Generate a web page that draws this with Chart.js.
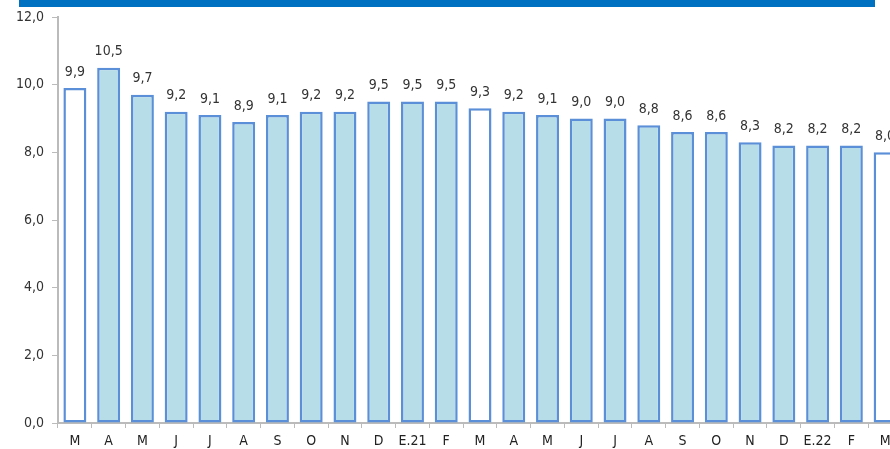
<!DOCTYPE html>
<html>
<head>
<meta charset="utf-8">
<script src="https://cdn.jsdelivr.net/npm/chart.js@4.4.1/dist/chart.umd.min.js"></script>
<style>
  html, body { margin: 0; padding: 0; background: #fff; overflow: hidden; }
  #wrap { position: relative; width: 904px; height: 449px; }
  #band { position: absolute; left: 19px; top: 0; width: 856px; height: 7px; background: #0070c0; }
</style>
</head>
<body>
<div id="wrap">
  <canvas id="barChart"></canvas>
  <div id="band"></div>
</div>
<script>
// months, Mar 2020 .. Mar 2022
var labels = ["M", "A", "M", "J", "J", "A", "S", "O", "N", "D", "E.21", "F",
  "M", "A", "M", "J", "J", "A", "S", "O", "N", "D", "E.22", "F", "M"];
var values = [9.9, 10.5, 9.7, 9.2, 9.1, 8.9, 9.1, 9.2, 9.2, 9.5, 9.5, 9.5,
  9.3, 9.2, 9.1, 9.0, 9.0, 8.8, 8.6, 8.6, 8.3, 8.2, 8.2, 8.2, 8.0];
var yTicks = [0, 2, 4, 6, 8, 10, 12];

var fmt = function (v) { return v.toFixed(1).replace(".", ","); };
var narrow = "'DejaVu Sans Condensed', 'Liberation Sans Narrow', 'Arial Narrow', sans-serif";

// March bars are drawn white
var fills = labels.map(function (l, i) {
  return (i % 12 === 0) ? "#ffffff" : "#b7dde8";
});

// value labels above each bar
var valueLabels = {
  id: "valueLabels",
  afterDatasetsDraw: function (chart) {
    var ctx = chart.ctx;
    var meta = chart.getDatasetMeta(0);
    ctx.save();
    ctx.font = "14px " + narrow;
    ctx.fillStyle = "#333";
    ctx.textAlign = "center";
    ctx.textBaseline = "bottom";
    meta.data.forEach(function (bar, i) {
      ctx.fillText(fmt(values[i]), bar.x, bar.y - 9);
    });
    ctx.restore();
  }
};

var ctxBar = document.getElementById("barChart").getContext("2d");
var barChart = new Chart(ctxBar, {
  type: "bar",
  data: {
    labels: labels,
    datasets: [
      {
        data: values,
        backgroundColor: fills,
        borderColor: "#5b8fd8",
        borderWidth: 2.5,
        borderSkipped: false,
        categoryPercentage: 1,
        barPercentage: 0.68,
      },
    ],
  },
  options: {
    responsive: true,
    maintainAspectRatio: false,
    animation: false,
    layout: { padding: { top: 17, right: 2, left: 0, bottom: 0 } },
    plugins: { legend: { display: false }, tooltip: { enabled: false } },
    scales: {
      x: {
        afterFit: function (s) { s.height = 26; },
        grid: {
          offset: true,
          drawOnChartArea: false,
          tickLength: 5,
          color: "#bbbbbb",
        },
        border: { color: "#bbbbbb", width: 2 },
        ticks: {
          maxRotation: 0,
          autoSkip: false,
          padding: 5,
          color: "#222",
          font: { family: narrow, size: 14 },
        },
      },
      y: {
        min: 0,
        max: 12,
        afterFit: function (s) { s.width = 58; },
        afterBuildTicks: function (s) {
          s.ticks = yTicks.map(function (v) { return { value: v }; });
        },
        grid: {
          drawOnChartArea: false,
          tickLength: 6,
          color: "#bbbbbb",
        },
        border: { color: "#bbbbbb", width: 2 },
        ticks: {
          padding: 8,
          color: "#333",
          font: { family: narrow, size: 14 },
          callback: function (v) { return fmt(v); },
        },
      },
    },
  },
  plugins: [valueLabels],
});
</script>
</body>
</html>
